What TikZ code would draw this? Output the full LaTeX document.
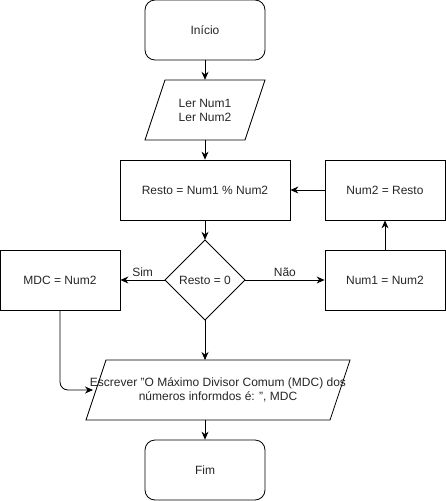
\documentclass[tikz,border=0pt]{standalone}
\usepackage{fontspec}
\setmainfont{Liberation Sans}
\usetikzlibrary{arrows.meta}
\begin{document}
\begin{tikzpicture}[x=1pt,y=-1pt,
  every node/.style={font=\fontsize{12}{14}\selectfont, text=black!85},
  box/.style={draw, line width=0.8pt, minimum width=#1, minimum height=60, inner sep=0pt, align=center},
  box/.default=120,
  term/.style={box, rounded corners=10pt},
  txt/.style={inner sep=0pt, align=center},
  shp/.style={draw, line width=0.8pt},
  conn/.style={line width=0.8pt, -{Stealth[length=8pt,width=7pt]}},
  lbl/.style={inner sep=1pt}]
\useasboundingbox (0,0) rectangle (446,501);
% nodes
\node[term] (inicio) at (205,30) {Início};
\node[txt, minimum width=100, minimum height=60] (ler) at (205,110) {Ler Num1\\Ler Num2};
\draw[shp] (165,80) -- (265,80) -- (245,140) -- (145,140) -- cycle;
\node[box=170] (resto) at (205,190) {Resto = Num1 \% Num2};
\node[box] (num2) at (385,190) {Num2 = Resto};
\node[txt, minimum width=80, minimum height=80] (dec) at (205,280) {Resto = 0};
\draw[shp] (205,240) -- (245,280) -- (205,320) -- (165,280) -- cycle;
\node[box] (mdc) at (60,280) {MDC = Num2};
\node[box] (num1) at (385,280) {Num1 = Num2};
\node[txt, minimum width=244, minimum height=60] (esc) at (218,390) {Escrever "O Máximo Divisor Comum (MDC) dos\\números informdos é: ", MDC};
\draw[shp] (106,360) -- (350,360) -- (330,420) -- (86,420) -- cycle;
\node[term] (fim) at (205,470) {Fim};
\coordinate (escin) at (93,390);
\coordinate (escN) at (205,360);
\coordinate (escS) at (205,420);
% connectors
\draw[conn] (inicio.south) -- (ler.north);
\draw[conn] (ler.south) -- (resto.north);
\draw[conn] (resto.south) -- (dec.north);
\draw[conn] (dec.west) -- node[lbl, above, yshift=2pt] {Sim} (mdc.east);
\draw[conn] (dec.east) -- node[lbl, above, yshift=2pt] {Não} (num1.west);
\draw[conn] (dec.south) -- (escN);
\draw[conn] (num1.north) -- (num2.south);
\draw[conn] (num2.west) -- (resto.east);
\draw[conn, rounded corners=8pt] (mdc.south) |- (escin);
\draw[conn] (escS) -- (fim.north);
\end{tikzpicture}
\end{document}
